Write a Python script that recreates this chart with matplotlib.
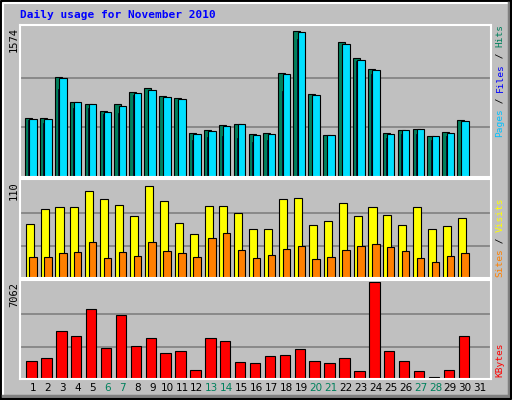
import matplotlib
matplotlib.use("Agg")
import matplotlib.pyplot as plt
from matplotlib.lines import Line2D
import numpy as np

days = list(range(1, 32))
hits = [619, 619, 1060, 797, 776, 692, 776, 902, 944, 860, 839, 462, 493, 545, 556, 451,
        462, 1101, 1542, 881, 441, 1427, 1259, 1143, 462, 493, 504, 430, 472, 598, 0]
files = [598, 566, 934, 734, 734, 661, 671, 871, 881, 734, 787, 388, 420, 430, 409, 367,
         388, 913, 1458, 787, 420, 1385, 1227, 1091, 409, 451, 451, 388, 430, 556, 0]
pages = [608, 608, 1049, 787, 766, 682, 745, 892, 923, 850, 829, 451, 483, 535, 556, 441,
         451, 1091, 1532, 871, 441, 1406, 1238, 1133, 451, 493, 504, 430, 462, 587, 0]
visits = [61, 78, 81, 81, 99, 89, 83, 70, 104, 87, 62, 50, 82, 82, 74, 55,
          56, 90, 91, 60, 65, 85, 70, 81, 71, 60, 81, 55, 59, 68, 0]
sites = [24, 24, 28, 30, 41, 23, 30, 25, 41, 31, 28, 24, 45, 51, 32, 23,
         26, 33, 36, 22, 24, 32, 36, 39, 35, 31, 23, 18, 25, 28, 0]
kbytes = [1289, 1495, 3505, 3118, 5128, 2268, 4664, 2422, 2964, 1881, 2036, 644, 2964, 2732,
          1263, 1185, 1649, 1727, 2190, 1340, 1185, 1495, 567, 7062, 2036, 1340, 567, 180,
          644, 3118, 0]
weekend = [6, 7, 13, 14, 20, 21, 27, 28]
max_top, max_mid, max_bot = 1574, 110, 7062

W, H = 512, 400
fig = plt.figure(figsize=(W / 100, H / 100), dpi=100)
fig.patch.set_facecolor("#c0c0c0")
mono = "DejaVu Sans Mono"


def px_axes(x0, y0, x1, y1):
    return fig.add_axes([x0 / W, 1 - y1 / H, (x1 - x0) / W, (y1 - y0) / H])


def fline(xs, ys, c, lw):
    fig.add_artist(Line2D([x / W for x in xs], [1 - y / H for y in ys], color=c, lw=lw))


# bevel frame
fline([1, 1, 511], [399, 1, 1], "black", 1.5)
fline([3, 3, 508], [396, 3, 3], "white", 1.5)
fline([509, 509, 3], [3, 396, 396], "#808080", 2.5)
fline([511, 511, 1], [1, 399, 399], "black", 1.5)

fig.text(20 / W, 1 - 15 / H, "Daily usage for November 2010", color="#0000ff",
         family=mono, weight="bold", fontsize=8, va="center")

x = np.array(days)
panels = [(25, 177, max_top), (179, 278, max_mid), (280, 379, max_bot)]
axes = []
for (y0, y1, m) in panels:
    ax = px_axes(20, y0, 491, y1)
    ax.set_facecolor("#c0c0c0")
    ax.set_xlim(0.13, 31.73)
    ax.set_ylim(0, m * 1.02)
    for g in (m / 3, 2 * m / 3):
        ax.axhline(g, color="#808080", lw=1.2, zorder=0)
    ax.set_xticks([])
    ax.set_yticks([])
    for s in ax.spines.values():
        s.set_color("white")
        s.set_linewidth(1.5)
    axes.append(ax)

a1, a2, a3 = axes
a1.bar(x - 0.3, hits, width=0.47, color="#00805c", edgecolor="black", lw=0.8)
a1.bar(x - 0.2, files, width=0.2, color="#0000ff", edgecolor="black", lw=0.5)
a1.bar(x, pages, width=0.5, color="#00e0ff", edgecolor="black", lw=0.8)
a2.bar(x - 0.22, visits, width=0.54, color="#ffff00", edgecolor="black", lw=0.8)
a2.bar(x, sites, width=0.5, color="#ff8000", edgecolor="black", lw=0.8)
a3.bar(x - 0.1, kbytes, width=0.7, color="#ff0000", edgecolor="black", lw=0.8)

for (y0, y1, m) in panels:
    fig.text(14 / W, 1 - (y0 + 2) / H, str(m), rotation=90, family=mono, fontsize=7.5,
             ha="center", va="top")

for d in days:
    a3.text(d, -0.045, str(d), transform=a3.get_xaxis_transform(), ha="center", va="top",
            fontsize=7.5, color="#00805c" if d in weekend else "black")


def vlabel(pieces, y_bottom):
    y = y_bottom
    for txt, c in pieces:
        fig.text(500 / W, 1 - y / H, txt, rotation=90, color=c, family=mono, fontsize=6.8,
                 ha="center", va="bottom")
        y -= len(txt) * 5.6


vlabel([("Pages", "#00c0ff"), (" / ", "black"), ("Files", "#0000ff"), (" / ", "black"),
        ("Hits", "#00805c")], 137)
vlabel([("Sites", "#ff8000"), (" / ", "black"), ("Visits", "#ffff00")], 277)
vlabel([("KBytes", "#ff0000")], 377)

fig.savefig("out.png", dpi=100, facecolor=fig.get_facecolor())
